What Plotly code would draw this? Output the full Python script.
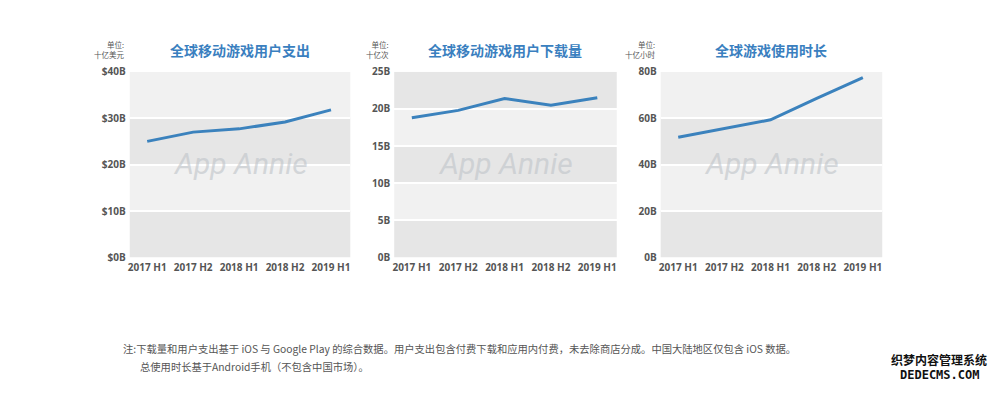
import plotly.graph_objects as go

categories = ["2017 H1", "2017 H2", "2018 H1", "2018 H2", "2019 H1"]

spend_values = [25.0, 27.0, 27.7, 29.2, 31.8]
download_values = [18.8, 19.8, 21.4, 20.5, 21.5]
time_values = [51.8, 55.5, 59.3, 68.5, 77.5]

spend_ticks = [0, 10, 20, 30, 40]
spend_ticktext = ["$0B", "$10B", "$20B", "$30B", "$40B"]
download_ticks = [0, 5, 10, 15, 20, 25]
download_ticktext = ["0B", "5B", "10B", "15B", "20B", "25B"]
time_ticks = [0, 20, 40, 60, 80]
time_ticktext = ["0B", "20B", "40B", "60B", "80B"]

titles = ["全球移动游戏用户支出", "全球移动游戏用户下载量", "全球游戏使用时长"]
units = ["单位:<br>十亿美元", "单位:<br>十亿次", "单位:<br>十亿小时"]

footnote1 = "注:下载量和用户支出基于 iOS 与 Google Play 的综合数据。用户支出包含付费下载和应用内付费，未去除商店分成。中国大陆地区仅包含 iOS 数据。"
footnote2 = "总使用时长基于Android手机（不包含中国市场）。"

FONT = "Noto Sans CJK SC"
LINE = "#3b82bd"
DARK = "#e6e6e6"
LIGHT = "#f1f1f1"

x_domains = [[0.128, 0.349], [0.393, 0.616], [0.660, 0.882]]
y_domain = [0.341, 0.8295]

panels = [
    (spend_values, spend_ticks, spend_ticktext),
    (download_values, download_ticks, download_ticktext),
    (time_values, time_ticks, time_ticktext),
]

fig = go.Figure()
shapes = []
annotations = []

for i, (vals, ticks, ticktext) in enumerate(panels):
    n = i + 1
    xa = "x" if n == 1 else f"x{n}"
    ya = "y" if n == 1 else f"y{n}"
    fig.add_trace(go.Scatter(
        x=categories, y=vals, mode="lines",
        line=dict(color=LINE, width=3),
        xaxis=xa, yaxis=ya, showlegend=False, hoverinfo="skip",
    ))
    top = ticks[-1]
    nb = len(ticks) - 1
    for b in range(nb):
        color = DARK if b % 2 == 0 else LIGHT
        shapes.append(dict(
            type="rect", xref=f"{xa} domain", yref=ya,
            x0=0, x1=1, y0=ticks[b], y1=ticks[b + 1],
            fillcolor=color, line=dict(width=0), layer="below",
        ))
    layout_x = dict(
        domain=x_domains[i], anchor=ya, range=[-0.38, 4.42],
        showgrid=False, zeroline=False, showline=False, ticks="",
        ticklabelstandoff=3,
        tickfont=dict(family="Open Sans", size=10, color="#555555", weight="bold"),
        fixedrange=True,
    )
    layout_y = dict(
        domain=y_domain, anchor=xa, range=[0, top],
        tickvals=ticks, ticktext=ticktext,
        showgrid=True, gridcolor="white", gridwidth=2,
        zeroline=False, showline=False, ticks="",
        ticklabelstandoff=3,
        tickfont=dict(family="Open Sans", size=10, color="#555555", weight="bold"),
        fixedrange=True,
    )
    fig.update_layout(**{
        ("xaxis" if n == 1 else f"xaxis{n}"): layout_x,
        ("yaxis" if n == 1 else f"yaxis{n}"): layout_y,
    })
    cx = (x_domains[i][0] + x_domains[i][1]) / 2
    annotations.append(dict(
        text=titles[i], xref="paper", yref="paper", x=cx, y=1 - 44 / 393,
        xanchor="center", yanchor="middle", showarrow=False,
        font=dict(family=FONT, size=14, color="#3a7fbf", weight="bold"),
    ))
    annotations.append(dict(
        text=units[i], xref="paper", yref="paper", x=x_domains[i][0] - 0.003,
        y=1 - 44 / 393, xanchor="right", yanchor="middle", align="right",
        showarrow=False,
        font=dict(family=FONT, size=7.5, color="#555555"),
    ))
    annotations.append(dict(
        text="<i>App Annie</i>", xref="paper", yref="paper", x=cx, y=1 - 162 / 393,
        xanchor="center", yanchor="middle", showarrow=False,
        font=dict(family="Roboto", size=30, color="rgba(190,195,200,0.6)"),
    ))

annotations.append(dict(
    text=footnote1, xref="paper", yref="paper", x=0.119, y=1 - 353 / 393,
    xanchor="left", yanchor="middle", showarrow=False,
    font=dict(family=FONT, size=10.3, color="#555555"),
))
annotations.append(dict(
    text=footnote2, xref="paper", yref="paper", x=0.136, y=1 - 372 / 393,
    xanchor="left", yanchor="middle", showarrow=False,
    font=dict(family=FONT, size=10.3, color="#555555"),
))
annotations.append(dict(
    text="织梦内容管理系统", xref="paper", yref="paper", x=0.939, y=1 - 365 / 393,
    xanchor="center", yanchor="middle", showarrow=False,
    font=dict(family=FONT, size=12, color="#111111", weight="bold"),
))
annotations.append(dict(
    text="DEDECMS.COM", xref="paper", yref="paper", x=0.939, y=1 - 381 / 393,
    xanchor="center", yanchor="middle", showarrow=False,
    font=dict(family="DejaVu Sans Mono", size=12, color="#111111", weight="bold"),
))

fig.update_layout(
    width=1000, height=393,
    margin=dict(l=0, r=0, t=0, b=0),
    paper_bgcolor="white", plot_bgcolor="white",
    shapes=shapes, annotations=annotations,
    font=dict(family=FONT),
)

fig.write_html(
    "out.html", include_plotlyjs=True, config={"displayModeBar": False},
    post_script="document.body.style.margin='0';document.body.style.overflow='hidden';",
)
